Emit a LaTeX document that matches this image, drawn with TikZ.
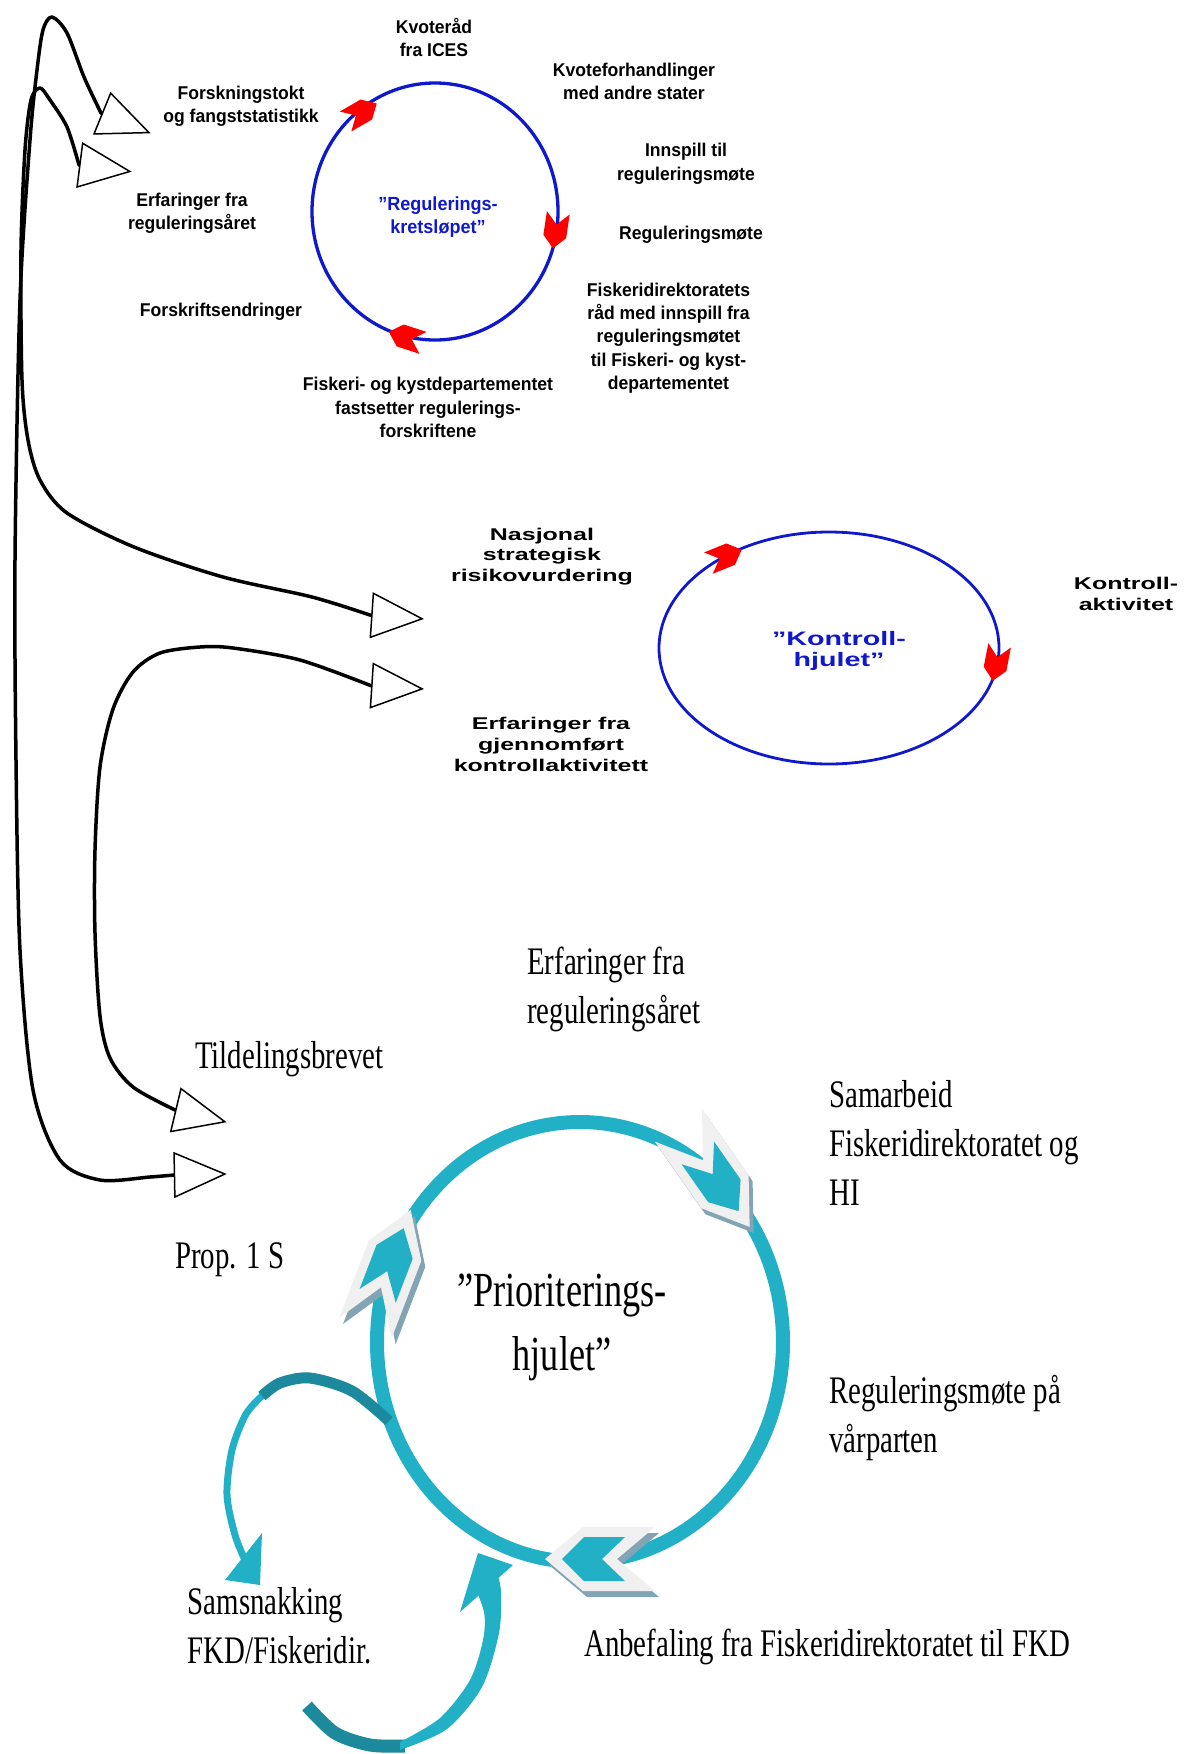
\documentclass[tikz,border=0pt]{standalone}
\usepackage{fontspec}
\setmainfont{Liberation Serif}
\newfontfamily\lblfont{Liberation Sans}[FakeStretch=0.95]
\newfontfamily\widefont{Liberation Sans}[FakeStretch=1.47]
\newfontfamily\narrowfont{Liberation Serif}[FakeStretch=0.74]
\usetikzlibrary{arrows.meta}
\definecolor{ringblue}{RGB}{16,24,204}
\definecolor{arrowred}{RGB}{255,0,0}
\definecolor{prioteal}{RGB}{34,176,199}
\definecolor{darkteal}{RGB}{28,137,157}
\definecolor{chevgrey}{RGB}{240,240,240}
\definecolor{chevshade}{RGB}{130,164,180}
\tikzset{
  lbl/.style={font={\lblfont\bfseries\fontsize{18.5}{23.3}\selectfont},align=center,inner sep=0pt,anchor=base},
  reglbl/.style={lbl,text=ringblue,font={\lblfont\bfseries\fontsize{19}{23.3}\selectfont}},
  klbl/.style={font={\widefont\bfseries\fontsize{17}{20.8}\selectfont},align=center,inner sep=0pt,anchor=base},
  kontlbl/.style={klbl,text=ringblue,font={\widefont\bfseries\fontsize{19.5}{21}\selectfont}},
  tlbl/.style={font={\narrowfont\fontsize{39}{48.7}\selectfont},align=left,inner sep=0pt,anchor=base west},
  priolbl/.style={font={\narrowfont\fontsize{49}{64}\selectfont},align=center,inner sep=0pt,anchor=base},
  opentip/.tip={Triangle[length=53pt,width=46pt,fill=white,line width=1.5pt]},
  both/.style={opentip-opentip,line width=3.5pt,black}
}
% rødt hakk-pilhode: x, y, vinkel
\newcommand\redchev[3]{\fill[arrowred,shift={(#1,#2)},rotate=#3]
  (-19,11.5) -- (-7,0) -- (-19,-11.5) -- (5,-11.5) -- (17,0) -- (5,11.5) -- cycle;}
% pilhode på prioriteringshjulet: x, y, vinkel, xscale, yscale
\newcommand\priochev[5]{%
  \fill[chevshade,shift={(#1+4,#2+6)},rotate=#3,xscale=#4,yscale=#5]
    (55,0) -- (17,32) -- (-55,32) -- (-17,0) -- (-55,-32) -- (17,-32) -- cycle;
  \begin{scope}[shift={(#1,#2)},rotate=#3,xscale=#4,yscale=#5]
    \fill[chevgrey] (55,0) -- (17,32) -- (-55,32) -- (-17,0) -- (-55,-32) -- (17,-32) -- cycle;
    \fill[prioteal] (38,0) -- (16,22) -- (-25,22) -- (-2,0) -- (-25,-22) -- (16,-22) -- cycle;
  \end{scope}}
\begin{document}
\begin{tikzpicture}[x=1pt,y=-1pt,line join=round]
\useasboundingbox (0,0) rectangle (1192,1754);
% Reguleringskretsløpet (nodene står på siste linjes grunnlinje)
\draw[ringblue,line width=3.3pt] (435,211.5) ellipse [x radius=123,y radius=128.5];
\redchev{362}{112}{30}
\redchev{555.5}{231.5}{-98.5}
\redchev{405}{337}{162}
\node[reglbl] (regtitle) at (438,233.3) {”Regulerings-\\kretsløpet”};
\node[lbl] (kvoteraad) at (434,56.7) {Kvoteråd\\fra ICES};
\node[lbl] (forskning) at (241,122.7) {Forskningstokt\\og fangststatistikk};
\node[lbl] (erfregaar) at (192,229.3) {Erfaringer fra\\reguleringsåret};
\node[lbl] (forskrift) at (221,316.7) {Forskriftsendringer};
\node[lbl] (fkdfast) at (428,437.3) {Fiskeri- og kystdepartementet\\fastsetter regulerings-\\forskriftene};
\node[lbl] (kvoteforh) at (634,99.3) {Kvoteforhandlinger\\med andre stater};
\node[lbl] (innspill) at (686,180) {Innspill til\\reguleringsmøte};
\node[lbl] (regmote) at (691,239.3) {Reguleringsmøte};
\node[lbl] (fdirraad) at (668.5,389.3) {Fiskeridirektoratets\\råd med innspill fra\\reguleringsmøtet\\til Fiskeri- og kyst-\\departementet};
% Kontrollhjulet
\draw[ringblue,line width=2.8pt] (829,648) ellipse [x radius=170,y radius=116];
\redchev{726}{556}{22}
\redchev{996}{664}{-101}
\node[kontlbl] (kontitle) at (839,666.7) {”Kontroll-\\hjulet”};
\node[klbl] (nasjonal) at (542,581.7) {Nasjonal\\strategisk\\risikovurdering};
\node[klbl] (erfkontroll) at (551,771) {Erfaringer fra\\gjennomført\\kontrollaktivitett};
\node[klbl] (kontakt) at (1126,610.7) {Kontroll-\\aktivitet};
% Prioriteringshjulet
\draw[prioteal,line width=14pt] (580,1342) ellipse [x radius=203,y radius=220];
\priochev{714}{1176}{-55}{1.13}{0.9}
\priochev{388}{1269}{69}{1.15}{0.88}
\priochev{600}{1559}{180}{1}{1}
\draw[prioteal,line width=7pt] plot[smooth] coordinates {(264,1394) (246,1414) (232,1450) (227,1495) (235,1535) (245,1560)};
\draw[darkteal,line width=11pt] plot[smooth] coordinates {(389,1421) (352,1391) (310,1378) (280,1383) (262,1396)};
\fill[prioteal] (225,1580) -- (262,1533) -- (260,1585) -- cycle;
\draw[darkteal,line width=13pt] plot[smooth] coordinates {(307,1706) (335,1733) (370,1745) (405,1746)};
\fill[prioteal] plot[smooth] coordinates {(400,1750) (447,1729) (482,1687) (499,1633) (501,1592) (497,1572)}
  -- plot[smooth] coordinates {(472,1580) (484,1612) (483,1640) (470,1680) (440,1718) (400,1742)} -- cycle;
\fill[prioteal] (460,1612) -- (478,1553) -- (513,1565) -- cycle;
\node[priolbl] (priotitle) at (562,1370) {”Prioriterings-\\hjulet”};
\node[tlbl] (erfregaar2) at (527,1023) {Erfaringer fra\\reguleringsåret};
\node[tlbl] (tildeling) at (195,1068) {Tildelingsbrevet};
\node[tlbl] (samarbeid) at (829,1205) {Samarbeid\\Fiskeridirektoratet og\\HI};
\node[tlbl] (prop) at (175,1268) {Prop. 1 S};
\node[tlbl] (regvaar) at (829,1452) {Reguleringsmøte på\\vårparten};
\node[tlbl] (samsnakk) at (187.5,1663) {Samsnakking\\FKD/Fiskeridir.};
\node[tlbl] (anbefaling) at (584,1656) {Anbefaling fra Fiskeridirektoratet til FKD};
% pilspisser for forbindelsene
\coordinate (tipF) at (150.7,133.3);
\coordinate (tipE) at (131.7,171.7);
\coordinate (tipN) at (424,618.9);
\coordinate (tipG) at (424,689);
\coordinate (tipT) at (226.7,1122.2);
\coordinate (tipP) at (226.7,1174);
\draw[both] (tipF) -- plot[smooth] coordinates {(101,113) (84,77) (67,33) (52,17) (43,30) (37,70) (30,140) (20,300)
  (15,560) (16,760) (20,950) (33,1090) (60,1160) (100,1180) (150,1177) (174,1175)} -- (tipP);
\draw[both] (tipE) -- plot[smooth] coordinates {(79,165) (67,127) (50,100) (40,88) (31,100) (25,150) (21,250)
  (22,380) (28,440) (40,480) (67,513) (134,547) (223,577) (312,597) (370.5,615.2)} -- (tipN);
\draw[both] (tipG) -- plot[smooth] coordinates {(370.5,685.5) (300,660) (233,648) (200,647) (160,653) (133,672)
  (113,709) (100,767) (95,850) (95,933) (100,1016) (110,1058) (133,1087) (174.7,1109.8)} -- (tipT);
\end{tikzpicture}
\end{document}
